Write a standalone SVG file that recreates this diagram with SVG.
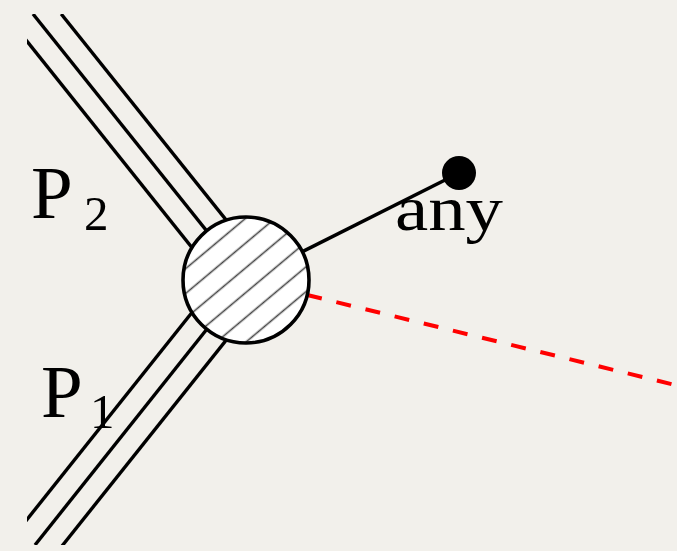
<svg xmlns="http://www.w3.org/2000/svg" width="677" height="551" viewBox="0 0 677 551">
<defs>
<style>
.leg{stroke:#000;stroke-width:3.4;fill:none;stroke-linecap:butt}
.lbl{font-family:"Liberation Serif","Times New Roman",serif;fill:#000}
</style>
<clipPath id="frame"><rect x="27" y="14" width="650" height="531"/></clipPath>
<pattern id="hatch" patternUnits="userSpaceOnUse" width="19" height="19" patternTransform="translate(246 280) rotate(-40)">
<line x1="0" y1="9.5" x2="19" y2="9.5" stroke="#444" stroke-width="1.6"/>
</pattern>
</defs>
<rect width="677" height="551" fill="#f2f0eb"/>
<g id="connectors" clip-path="url(#frame)">
<line class="leg" x1="263.2" y1="266.3" x2="61.2" y2="14"/>
<line class="leg" x1="246" y1="280" x2="33" y2="14"/>
<line class="leg" x1="228.8" y1="293.7" x2="10" y2="20"/>
<line class="leg" x1="228.8" y1="266.3" x2="10" y2="540.8"/>
<line class="leg" x1="246" y1="280" x2="35" y2="545"/>
<line class="leg" x1="263.2" y1="293.7" x2="62" y2="546"/>
<line x1="246" y1="280" x2="459" y2="173" stroke="#000" stroke-width="3.6"/>
<line x1="307.2" y1="295" x2="690" y2="388.6" stroke="#ff0000" stroke-width="4" stroke-dasharray="15 15"/>
</g>
<g id="blob">
<circle cx="246" cy="280" r="63" fill="#fff"/>
<circle cx="246" cy="280" r="63" fill="url(#hatch)" stroke="#000" stroke-width="3.6"/>
</g>
<g id="dot">
<circle cx="459" cy="173" r="17" fill="#000"/>
</g>
<g id="labels">
<text class="lbl" x="31" y="218" font-size="75">P</text>
<text class="lbl" x="84" y="230" font-size="49">2</text>
<text class="lbl" x="41" y="417" font-size="75">P</text>
<text class="lbl" x="90" y="428" font-size="49">1</text>
<text class="lbl" x="395" y="230" font-size="64" textLength="108" lengthAdjust="spacingAndGlyphs">any</text>
</g>
</svg>
